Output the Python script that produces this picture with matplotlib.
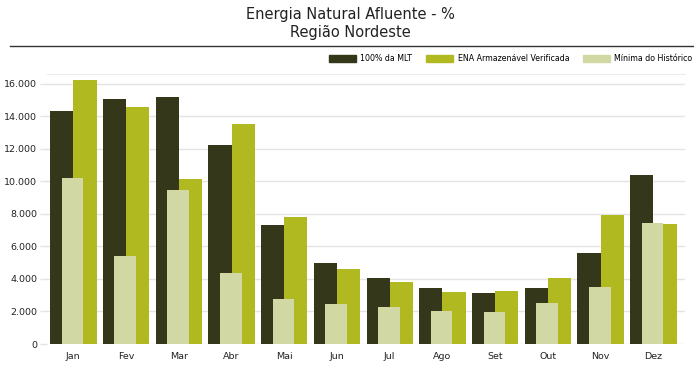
import matplotlib
matplotlib.use("Agg")
import matplotlib.pyplot as plt
import numpy as np
from matplotlib.patches import Patch
from matplotlib.lines import Line2D

meses = ["Jan", "Fev", "Mar", "Abr", "Mai", "Jun", "Jul", "Ago", "Set", "Out", "Nov", "Dez"]
mlt = [14300, 15080, 15180, 12200, 7290, 4950, 4030, 3420, 3110, 3420, 5600, 10360]
ena_verificada = [16200, 14570, 10130, 13500, 7820, 4580, 3790, 3170, 3230, 4050, 7920, 7370]
minima_hist = [10170, 5400, 9430, 4340, 2760, 2480, 2290, 2000, 1980, 2500, 3500, 7430]
yticks = [0, 2000, 4000, 6000, 8000, 10000, 12000, 14000, 16000]
ytick_labels = ["0", "2.000", "4.000", "6.000", "8.000", "10.000", "12.000", "14.000", "16.000"]

cor_mlt = "#343719"
cor_ena = "#b1b920"
cor_min = "#d2d8a4"

fig = plt.figure(figsize=(6.94, 3.65), dpi=100)
ax = fig.add_axes([0.0677, 0.0575, 0.9193, 0.7395])

x = np.arange(len(meses))
w = 0.44
ax.bar(x - w / 2, mlt, width=w, color=cor_mlt, zorder=2)
ax.bar(x + w / 2, ena_verificada, width=w, color=cor_ena, zorder=2)
ax.bar(x - 0.015, minima_hist, width=0.41, color=cor_min, zorder=3)

ax.set_xlim(-0.5, 11.6)
ax.set_ylim(0, 16580)
ax.set_xticks(x)
ax.set_xticklabels(meses, fontsize=6.8, color="#222222")
ax.set_yticks(yticks)
ax.set_yticklabels(ytick_labels, fontsize=6.8, color="#222222")
ax.tick_params(axis="x", length=0, pad=6)
ax.tick_params(axis="y", length=5, color="#e4e4e4", width=1, pad=2)
ax.grid(axis="y", color="#e4e4e4", linewidth=1, zorder=0)
for s in ["left", "right", "bottom"]:
    ax.spines[s].set_visible(False)
ax.spines["top"].set_color("#ededed")

# titulo
fig.text(0.505, 0.960, "Energia Natural Afluente - %", ha="center", va="center", fontsize=10.5, color="#222222")
fig.text(0.505, 0.910, "Região Nordeste", ha="center", va="center", fontsize=10.5, color="#222222")
fig.add_artist(Line2D([0.014, 1.0], [0.874, 0.874], transform=fig.transFigure, color="#333333", linewidth=1))

handles = [Patch(color=cor_mlt), Patch(color=cor_ena), Patch(color=cor_min)]
labels = ["100% da MLT", "ENA Armazenável Verificada", "Mínima do Histórico"]
fig.legend(handles, labels, loc="center right", bbox_to_anchor=(1.008, 0.84), ncol=3, frameon=False,
           fontsize=5.7, handlelength=3.4, handleheight=1.0, columnspacing=1.7, handletextpad=0.6)

fig.savefig("out.png", dpi=100)
